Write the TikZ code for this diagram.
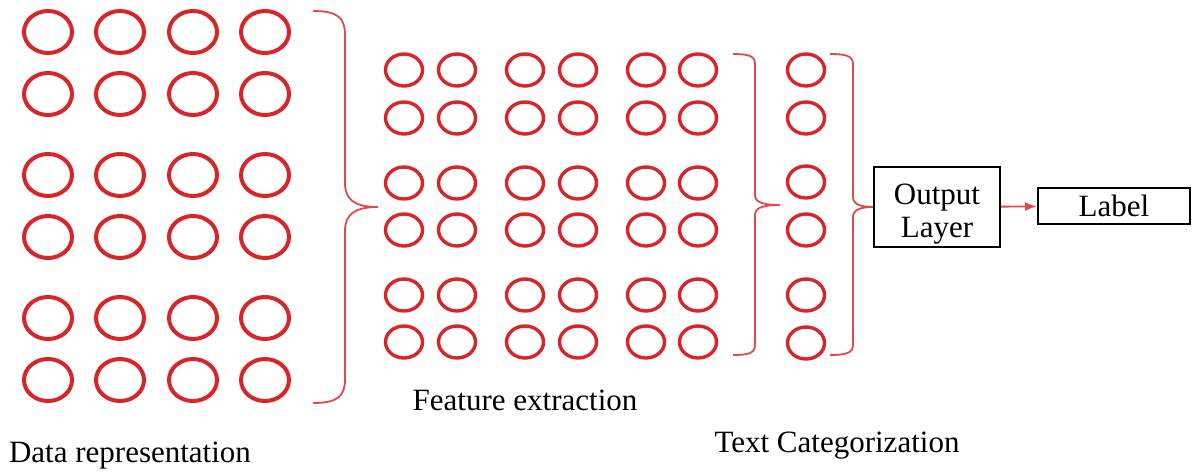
\documentclass[tikz,border=0pt]{standalone}
\usepackage{fontspec}
\setmainfont{Liberation Serif}
\usetikzlibrary{shapes.geometric,arrows.meta}
\tikzset{>=latex}
\definecolor{ringred}{RGB}{216,38,40}
\definecolor{bracered}{RGB}{228,72,76}

\tikzset{
    bigring/.style={ellipse, draw=ringred, line width=2pt, minimum width=24pt, minimum height=21pt, inner sep=0pt},
    smallring/.style={ellipse, draw=ringred, line width=1.7pt, minimum width=18.5pt, minimum height=16pt, inner sep=0pt},
    bracepath/.style={draw=bracered, line width=0.9pt},
    labeltext/.style={font=\fontsize{15.5}{17}\selectfont, anchor=base},
    boxnode/.style={draw=black, line width=1pt, font=\fontsize{15.5}{16.5}\selectfont, align=center, inner sep=0pt}
}

\begin{document}
\begin{tikzpicture}[x=0.5pt, y=-0.5pt]
    \useasboundingbox (0,0) rectangle (1192,471);

    % data representation
    \foreach \c/\x in {1/48,2/120,3/193,4/265}
        \foreach \r/\y in {1/32,2/94,3/175,4/237,5/318,6/380}
            \node[bigring] (d-\r-\c) at (\x,\y) {};

    % feature extraction
    \foreach \c/\x in {1/404,2/457,3/525,4/578,5/646,6/698}
        \foreach \r/\y in {1/70,2/118,3/183,4/230,5/295,6/342}
            \node[smallring] (f-\r-\c) at (\x,\y) {};

    % text categorization
    \foreach \r/\y in {1/70,2/118,3/182,4/230,5/295,6/343}
        \node[smallring] (t-\r) at (806,\y) {};

    \node[boxnode, minimum width=63pt, minimum height=40pt] (outlayer) at (937,207) {\rule{0pt}{17pt}Output\\Layer};
    \node[boxnode, minimum width=76pt, minimum height=18pt] (label) at (1114,206) {Label};

    \coordinate (tipone) at (378,207);
    \coordinate (tiptwo) at (780,205);

    \draw[bracepath] (313,11) .. controls (338,11) and (345,18) .. (345,35) -- (345,183)
        .. controls (345,200) and (355,207) .. (tipone)
        .. controls (355,207) and (345,214) .. (345,231) -- (345,379)
        .. controls (345,396) and (338,403) .. (313,403);

    \draw[bracepath] (733,54) .. controls (749,54) and (755,56) .. (755,64) -- (755,195)
        .. controls (755,202) and (762,205) .. (tiptwo)
        .. controls (762,205) and (755,208) .. (755,215) -- (755,345)
        .. controls (755,353) and (749,355) .. (733,355);

    \draw[bracepath] (830,54) .. controls (846,54) and (853,56) .. (853,64) -- (853,197)
        .. controls (853,204) and (860,207) .. (outlayer.west)
        .. controls (860,207) and (853,210) .. (853,217) -- (853,345)
        .. controls (853,353) and (846,355) .. (830,355);

    \draw[-{Latex[length=6pt,width=4.5pt]}, draw=bracered, fill=bracered, line width=0.9pt] (outlayer) -- (label);

    \node[labeltext] (datatext) at (130,462) {Data representation};
    \node[labeltext] (feattext) at (525,410) {Feature extraction};
    \node[labeltext] (cattext) at (837,452) {Text Categorization};
\end{tikzpicture}
\end{document}
